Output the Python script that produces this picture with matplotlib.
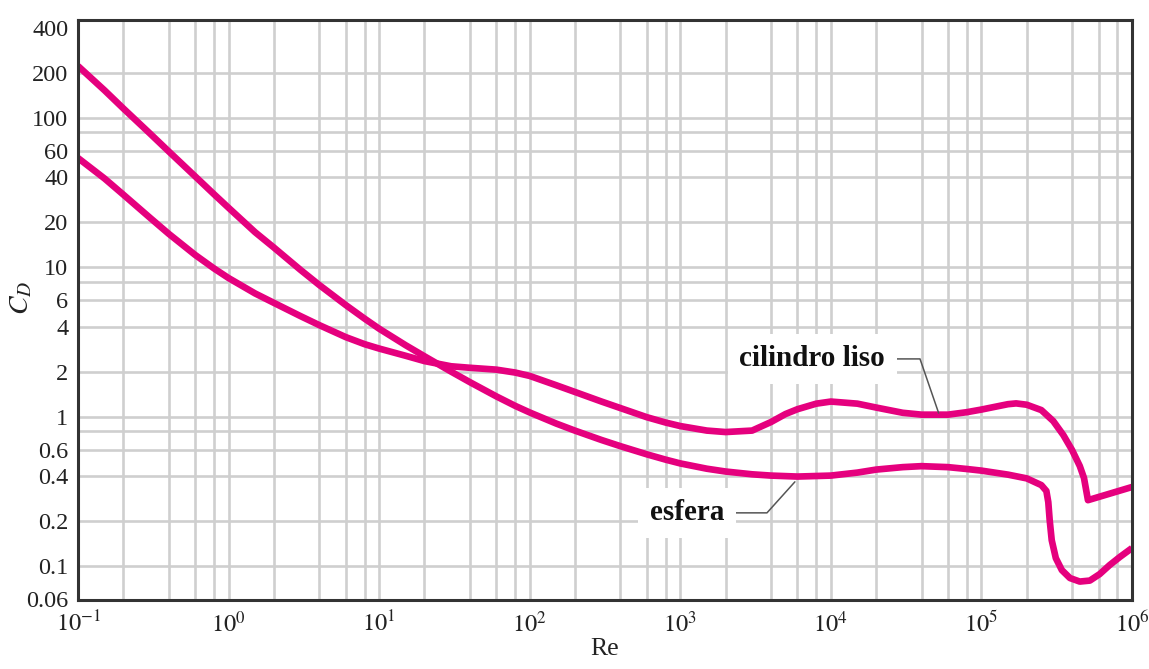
import matplotlib
matplotlib.use("Agg")
import matplotlib.pyplot as plt
from matplotlib.ticker import FixedLocator, FixedFormatter, NullLocator

# ---- data ----
re_esfera = [0.1, 0.15, 0.2, 0.3, 0.4, 0.6, 0.8, 1,
             1.5, 2, 3, 4, 6, 8, 10,
             15, 20, 30, 40, 60, 80, 100,
             150, 200, 300, 400, 600, 800, 1000,
             1500, 2000, 3000, 4000, 6000, 1e4,
             1.5e4, 2e4, 3e4, 4e4, 6e4, 8e4, 1e5,
             1.5e5, 2e5, 2.5e5, 2.7e5, 2.78e5, 2.84e5, 2.93e5, 3.12e5,
             3.42e5, 3.87e5, 4.5e5, 5.25e5, 6.1e5, 7.1e5, 8.3e5, 1e6]
cd_esfera = [221, 152, 115, 78.3, 59.4, 40.4, 30.7, 24.9,
             17.1, 13.5, 9.58, 7.59, 5.57, 4.52, 3.87,
             3.0, 2.53, 2.0, 1.70, 1.365, 1.18, 1.065,
             0.898, 0.805, 0.697, 0.634, 0.559, 0.515, 0.486,
             0.448, 0.429, 0.411, 0.403, 0.397, 0.403,
             0.422, 0.442, 0.459, 0.466, 0.459, 0.446, 0.435,
             0.409, 0.386, 0.348, 0.318, 0.268, 0.203, 0.149, 0.113,
             0.094, 0.0832, 0.0788, 0.080, 0.0884, 0.1015, 0.115, 0.132]

re_cilindro = [0.1, 0.15, 0.2, 0.3, 0.4, 0.6, 0.8, 1,
               1.5, 2, 3, 4, 6, 8, 10,
               15, 20, 30, 40, 60, 80, 100,
               150, 200, 300, 400, 600, 800, 1000,
               1500, 2000, 3000, 4000, 5000, 6000, 8000, 1e4,
               1.5e4, 2e4, 3e4, 4e4, 6e4, 8e4, 1e5,
               1.5e5, 1.7e5, 2e5, 2.5e5, 3e5, 3.5e5, 4e5, 4.5e5, 4.8e5,
               5.1e5, 1e6]
cd_cilindro = [53.6, 39.1, 30.5, 21.4, 16.7, 12.05, 9.79, 8.44,
               6.66, 5.76, 4.70, 4.09, 3.40, 3.05, 2.85,
               2.55, 2.35, 2.17, 2.12, 2.06, 1.97, 1.87,
               1.62, 1.46, 1.26, 1.14, 0.99, 0.912, 0.864,
               0.806, 0.788, 0.806, 0.919, 1.04, 1.12, 1.22, 1.26,
               1.22, 1.149, 1.06, 1.03, 1.03, 1.07, 1.114,
               1.21, 1.225, 1.20, 1.105, 0.933, 0.752, 0.597, 0.467, 0.388,
               0.276, 0.338]

x_ticks = [1e-1, 1e0, 1e1, 1e2, 1e3, 1e4, 1e5, 1e6]
x_ticklabels = [r"$10^{-1}$", r"$10^{0}$", r"$10^{1}$", r"$10^{2}$",
                r"$10^{3}$", r"$10^{4}$", r"$10^{5}$", r"$10^{6}$"]
y_ticks = [400, 200, 100, 60, 40, 20, 10, 6, 4, 2, 1, 0.6, 0.4, 0.2, 0.1, 0.06]
y_ticklabels = ["400", "200", "100", "60", "40", "20", "10", "6", "4", "2",
                "1", "0.6", "0.4", "0.2", "0.1", "0.06"]
y_grid = [200, 100, 80, 60, 40, 20, 10, 8, 6, 4, 2, 1, 0.8, 0.6, 0.4, 0.2, 0.1]
x_grid_mult = [1, 2, 4, 6, 8]

# ---- style ----
plt.rcParams['font.family'] = ['Liberation Serif', 'DejaVu Serif']
plt.rcParams['mathtext.fontset'] = 'stix'

MAGENTA = '#E5007E'
GRID = '#cfcfcf'
TXT = '#222222'

fig = plt.figure(figsize=(11.49, 6.69), dpi=100)
ax = fig.add_axes([0.0679, 0.1031, 0.9173, 0.867])
ax.set_xscale('log')
ax.set_yscale('log')
ax.set_xlim(1e-1, 1e6)
ax.set_ylim(0.0593, 449)

# grid
for dec in range(-1, 6):
    for m in x_grid_mult:
        v = m * 10.0 ** dec
        if 1e-1 < v < 1e6:
            ax.axvline(v, color=GRID, lw=1.9, zorder=1)
for v in y_grid:
    ax.axhline(v, color=GRID, lw=1.9, zorder=1)

ax.plot(re_esfera, cd_esfera, color=MAGENTA, lw=4.8, solid_joinstyle='round',
        solid_capstyle='butt', zorder=3)
ax.plot(re_cilindro, cd_cilindro, color=MAGENTA, lw=4.8,
        solid_joinstyle='round', solid_capstyle='butt', zorder=3)

ax.xaxis.set_major_locator(FixedLocator(x_ticks))
ax.xaxis.set_major_formatter(FixedFormatter(x_ticklabels))
ax.xaxis.set_minor_locator(NullLocator())
ax.yaxis.set_major_locator(FixedLocator(y_ticks))
ax.yaxis.set_major_formatter(FixedFormatter(y_ticklabels))
ax.yaxis.set_minor_locator(NullLocator())
ax.tick_params(axis='both', length=0, labelsize=17.5, colors=TXT)
ax.tick_params(axis='x', pad=8)
ax.tick_params(axis='y', pad=7)

for s in ax.spines.values():
    s.set_color('#333333')
    s.set_linewidth(2.2)
    s.set_zorder(5)

ax.set_xlabel('Re', fontsize=18.5, color=TXT, labelpad=1)
ax.set_ylabel(r'$C_D$', fontsize=20, color=TXT)
ax.yaxis.set_label_coords(-0.041, 0.52)

# annotations
ax.annotate('cilindro liso', xy=(5.2e4, 1.055), xytext=(7.5e3, 2.43),
            fontsize=21, fontweight='bold', ha='center', va='center',
            color='#111111', zorder=6,
            bbox=dict(boxstyle='square,pad=0.4', fc='white', ec='none'),
            arrowprops=dict(arrowstyle='-', color='#555555', lw=1.1,
                            shrinkA=0, shrinkB=0,
                            connectionstyle='angle,angleA=0,angleB=109,rad=0'))
ax.annotate('esfera', xy=(5.77e3, 0.366), xytext=(1.11e3, 0.227),
            fontsize=21, fontweight='bold', ha='center', va='center',
            color='#111111', zorder=6,
            bbox=dict(boxstyle='square,pad=0.4', fc='white', ec='none'),
            arrowprops=dict(arrowstyle='-', color='#555555', lw=1.1,
                            shrinkA=0, shrinkB=0,
                            connectionstyle='angle,angleA=0,angleB=48,rad=0'))

fig.savefig('out.png', dpi=100, facecolor='white')
